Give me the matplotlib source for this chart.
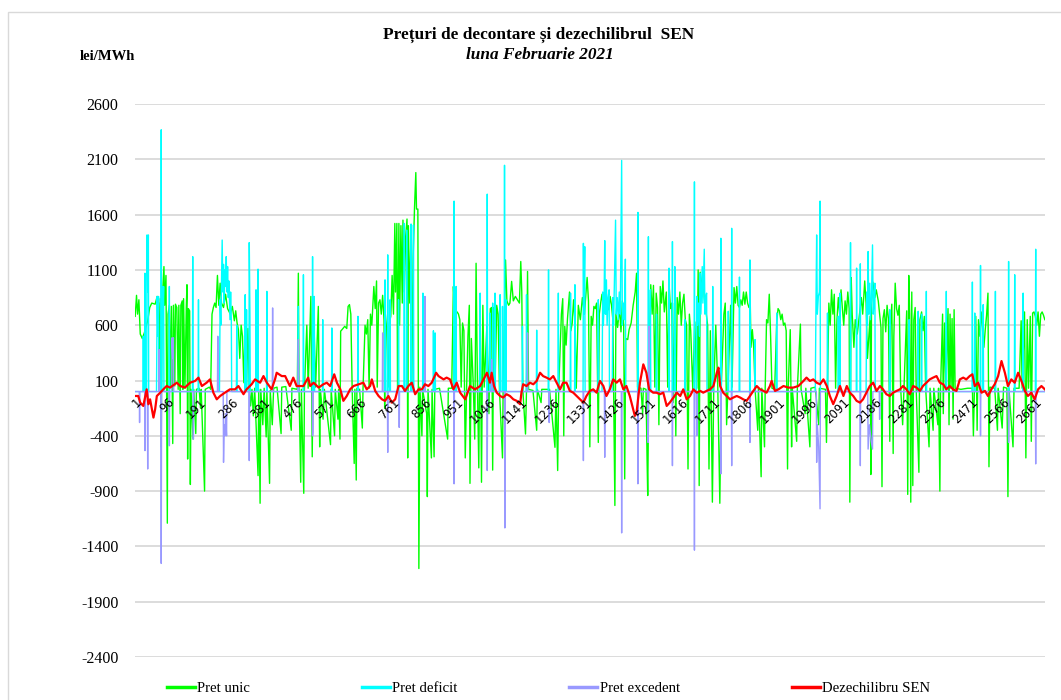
import matplotlib
matplotlib.use("Agg")
from matplotlib import pyplot as plt
from matplotlib.patches import Rectangle

# Readings: (interval number, lei/MWh)
pret_unic = [
    (1, 680), (5, 870), (8, 700), (12, 830), (16, 520), (22, 480), (28, 530), (34, 600), (38, 640),
    (44, 760), (50, 800), (60, 790), (66, 860), (70, 800), (72, 30), (75, 840), (78, -500), (80, 780),
    (86, 1130), (88, 780), (92, 1050), (96, -1190), (98, 700), (102, 780), (106, 40), (108, 770),
    (112, -470), (114, 780), (118, 50), (120, 790), (124, 760), (128, 20), (130, 780), (134, -200),
    (136, 780), (140, 820), (142, 20), (144, 840), (148, 30), (152, 760), (154, 966), (156, -610),
    (158, 750), (162, 730), (164, -840), (166, 20), (172, -430), (174, 20), (180, -380), (182, 20),
    (190, 30), (194, -150), (196, 20), (206, -900), (208, 20), (220, 40), (224, 20), (228, 700),
    (232, 760), (236, 800), (240, 760), (244, 1050), (248, 780), (252, 980), (256, 800), (262, 760),
    (268, 880), (274, 750), (282, 700), (288, 770), (294, 640), (298, 730), (302, 620), (306, 560),
    (310, 300), (314, 600), (318, 500), (322, 80), (326, 600), (330, 60), (334, 570), (338, 40),
    (342, -130), (346, 20), (350, -220), (354, 30), (360, -450), (364, -760), (366, 20), (370, -1010),
    (372, 20), (378, -300), (382, 30), (388, -410), (390, 20), (398, -830), (400, 10), (406, -300),
    (410, 30), (420, 40), (432, -380), (434, 40), (446, 45), (462, -350), (464, 30), (480, 20),
    (483, 1070), (485, 20), (490, -820), (492, 20), (499, -920), (501, 20), (508, 600), (512, 30),
    (520, 860), (524, -590), (528, 750), (534, 40), (542, 770), (546, -500), (548, 20), (556, -250),
    (560, 20), (578, -480), (580, 20), (590, -400), (592, 20), (600, -250), (602, 20), (606, -430),
    (608, 546), (612, 560), (620, 590), (626, 570), (630, 770), (634, 786), (638, 700), (642, 20),
    (648, -650), (650, 20), (654, -800), (656, 30), (664, 20), (672, -330), (674, 20), (680, 600),
    (684, 520), (688, 650), (692, 30), (696, 700), (700, 600), (706, 950), (710, 750), (714, 1000),
    (716, 40), (720, 800), (724, 830), (728, 700), (732, 870), (736, 650), (738, -150), (740, 700),
    (744, 560), (748, 40), (752, 620), (756, 680), (760, 1050), (764, 700), (768, 1520), (770, 900),
    (774, 1520), (776, 30), (780, 1520), (782, 600), (786, 1500), (790, 800), (792, 1550), (796, 900),
    (800, 1400), (804, 1560), (806, -600), (808, 1500), (812, 800), (816, 1500), (818, 40), (822, 1200),
    (826, 1650), (830, 1980), (832, 1650), (836, 1650), (839, -1600), (842, 40), (848, -400), (850, 20),
    (862, -200), (864, -950), (866, 20), (876, -600), (878, 20), (884, -590), (886, 20), (900, 30),
    (924, -430), (926, 30), (936, 30), (941, 950), (944, 760), (948, 711), (952, 720), (956, 700),
    (960, 650), (964, 40), (968, 620), (972, 550), (976, -600), (980, 30), (984, 500), (988, 780),
    (990, -830), (994, 480), (1000, 40), (1004, -430), (1008, 1160), (1012, 50), (1016, -690),
    (1020, 820), (1024, -820), (1028, 780), (1032, 40), (1040, 600), (1046, -200), (1050, 750),
    (1054, 760), (1057, -710), (1060, 760), (1064, 40), (1069, 780), (1073, 700), (1077, 20),
    (1086, -600), (1088, 40), (1095, 1190), (1099, 820), (1104, 780), (1108, 800), (1113, 996),
    (1118, 820), (1124, 860), (1130, 830), (1136, 800), (1140, 1176), (1143, 900), (1146, 20),
    (1154, -384), (1157, 20), (1160, 1086), (1163, 20), (1176, 10), (1187, -350), (1189, 20),
    (1200, -100), (1202, 20), (1225, 20), (1241, -504), (1244, 20), (1249, -714), (1252, 20),
    (1260, 700), (1264, 840), (1267, -400), (1270, 590), (1274, 420), (1278, 660), (1284, 900),
    (1288, 550), (1292, 620), (1296, 830), (1300, 640), (1304, 30), (1310, 780), (1316, 650),
    (1322, 850), (1328, 700), (1336, 1032), (1340, 820), (1344, -500), (1348, 680), (1352, 600),
    (1356, 770), (1360, 750), (1364, 800), (1369, -460), (1372, 700), (1376, 800), (1380, 880),
    (1384, 760), (1388, 800), (1392, 700), (1396, 830), (1400, 740), (1404, 860), (1408, 780),
    (1412, 650), (1418, -1030), (1421, 700), (1426, 580), (1432, 760), (1436, 540), (1440, 820),
    (1444, 600), (1447, -790), (1450, 480), (1456, 470), (1460, 560), (1466, 620), (1472, 780),
    (1478, 900), (1482, 1070), (1485, 40), (1495, 30), (1500, -200), (1502, 30), (1510, 20),
    (1513, -600), (1515, -940), (1518, 30), (1524, 966), (1528, 700), (1532, 960), (1536, 40),
    (1540, 890), (1544, 760), (1548, -300), (1552, 950), (1556, 800), (1560, 1000), (1564, 720),
    (1570, 900), (1574, 40), (1578, 980), (1582, 750), (1586, 800), (1590, -100), (1594, 800),
    (1598, -400), (1602, 850), (1606, 700), (1610, 900), (1614, 600), (1618, 800), (1622, 880),
    (1626, 650), (1630, 600), (1634, -700), (1638, 700), (1642, 550), (1648, 20), (1654, 630),
    (1660, 30), (1664, 1100), (1667, -850), (1670, 1080), (1674, 900), (1678, 1100), (1682, 850),
    (1688, 700), (1692, 600), (1696, -700), (1700, 550), (1706, -1000), (1710, 30), (1716, 600),
    (1722, 30), (1728, -1010), (1732, 20), (1740, 700), (1744, 800), (1748, -300), (1752, 30),
    (1760, 780), (1764, 40), (1770, 940), (1774, 800), (1778, 950), (1782, 780), (1786, 760),
    (1790, 830), (1794, 780), (1798, 900), (1802, 790), (1806, 900), (1810, 800), (1814, 760),
    (1818, 780), (1820, 400), (1824, 560), (1828, 400), (1832, 30), (1840, -350), (1842, 30),
    (1850, -770), (1852, 30), (1860, -500), (1862, 30), (1866, 650), (1870, 620), (1874, 880),
    (1878, 500), (1882, 30), (1890, 20), (1896, 630), (1900, 750), (1904, 730), (1908, 650),
    (1912, 700), (1916, 600), (1920, 620), (1924, 550), (1928, -700), (1930, 30), (1936, 560),
    (1940, -500), (1942, 30), (1955, -450), (1957, 30), (1966, 610), (1968, 20), (1980, -200),
    (1982, 30), (1994, -500), (1997, 30), (2010, 40), (2020, -300), (2022, 30), (2040, 20),
    (2043, -460), (2046, 40), (2050, 800), (2054, 600), (2058, 920), (2062, 700), (2066, 880),
    (2070, 30), (2074, 650), (2078, 850), (2082, 700), (2086, 920), (2090, 750), (2094, 600),
    (2098, 820), (2102, 700), (2106, 900), (2110, 750), (2112, -1000), (2116, 1030), (2119, 700),
    (2124, 400), (2128, 650), (2134, 520), (2146, 850), (2150, 700), (2156, 1000), (2160, 800),
    (2164, 300), (2172, 680), (2174, -750), (2176, 800), (2180, 990), (2186, 850), (2190, 920),
    (2196, 820), (2200, 700), (2204, 580), (2207, -860), (2210, 660), (2214, 740), (2218, 540),
    (2222, 780), (2226, 660), (2230, -450), (2232, 600), (2236, 790), (2240, -560), (2242, 500),
    (2246, 980), (2250, 750), (2254, 690), (2258, 780), (2262, 40), (2268, -300), (2272, 30),
    (2280, 730), (2283, -930), (2286, 1050), (2289, 700), (2292, -1000), (2295, 900), (2298, -850),
    (2301, 650), (2305, 760), (2308, 30), (2316, -730), (2319, 650), (2324, 720), (2328, 550),
    (2332, 680), (2336, 30), (2346, -500), (2349, 30), (2358, -350), (2360, 30), (2372, -300),
    (2374, 30), (2378, -900), (2380, 30), (2386, 700), (2388, -200), (2392, 620), (2396, 30),
    (2402, 750), (2405, -300), (2408, 700), (2411, 30), (2414, 660), (2417, -250), (2420, 740),
    (2423, 30), (2440, 20), (2460, 30), (2474, 30), (2477, -400), (2480, 30), (2484, 680),
    (2488, -350), (2492, 650), (2496, 500), (2500, 720), (2504, 560), (2508, 400), (2512, 560),
    (2516, 690), (2520, 890), (2523, -680), (2526, 40), (2540, 30), (2548, -350), (2550, 30),
    (2562, -330), (2566, 40), (2576, 30), (2579, -950), (2582, 30), (2594, -500), (2597, 30),
    (2612, 30), (2618, 640), (2621, 30), (2628, 720), (2632, -600), (2636, 650), (2640, 30),
    (2645, 680), (2648, -450), (2652, 710), (2656, 720), (2660, 680), (2664, 600), (2668, 720),
    (2672, 500), (2676, 700), (2680, 720), (2684, 690), (2688, 650),
]

pret_deficit = [
    (1, 0), (24, 0), (25, 500), (26, 0), (29, 0), (30, 1070), (31, 0), (35, 0), (36, 1416), (38, 900),
    (40, 1416), (41, 0), (64, 0), (66, 860), (68, 500), (70, 860), (71, 0), (77, 0), (78, 2367), (79, 0),
    (81, 950), (83, 700), (85, 950), (86, 0), (101, 0), (102, 950), (103, 0), (170, 0), (171, 1220),
    (172, 0), (187, 0), (188, 830), (189, 0), (250, 0), (252, 830), (254, 600), (256, 1000), (258, 1370),
    (260, 900), (262, 1150), (264, 800), (266, 1100), (268, 950), (270, 1220), (272, 900), (274, 1130),
    (276, 850), (278, 1000), (281, 650), (283, 900), (285, 650), (286, 0), (300, 0), (301, 600), (302, 0),
    (325, 0), (326, 876), (327, 0), (329, 0), (330, 740), (331, 0), (337, 0), (338, 1347), (340, 700),
    (341, 0), (357, 0), (358, 920), (359, 0), (363, 0), (364, 1107), (365, 0), (389, 0), (390, 906),
    (391, 0), (482, 0), (483, 770), (484, 0), (497, 0), (498, 1056), (499, 0), (524, 0), (525, 1220),
    (526, 0), (529, 0), (530, 860), (531, 0), (554, 0), (555, 650), (556, 0), (581, 0), (582, 575),
    (583, 0), (658, 0), (659, 680), (660, 0), (738, 0), (739, 1010), (741, 0), (746, 0), (747, 1236),
    (748, 0), (753, 0), (754, 830), (755, 0), (778, 0), (779, 830), (780, 0), (795, 0), (796, 1520),
    (797, 0), (802, 0), (803, 1460), (804, 0), (815, 0), (816, 1515), (817, 0), (822, 0), (823, 1506),
    (824, 0), (850, 0), (851, 890), (852, 0), (881, 0), (882, 550), (883, 0), (886, 0), (887, 530),
    (888, 0), (942, 0), (943, 1722), (944, 0), (948, 0), (949, 950), (950, 0), (1019, 0), (1020, 890),
    (1021, 0), (1040, 0), (1041, 1785), (1042, 0), (1048, 0), (1049, 710), (1050, 0), (1056, 0),
    (1057, 800), (1058, 0), (1063, 0), (1064, 890), (1065, 0), (1078, 0), (1079, 876), (1080, 0),
    (1085, 0), (1086, 770), (1087, 0), (1091, 0), (1092, 2046), (1093, 0), (1095, 0), (1096, 830),
    (1097, 0), (1144, 0), (1145, 590), (1146, 0), (1156, 0), (1157, 876), (1158, 0), (1186, 0),
    (1187, 555), (1188, 0), (1221, 0), (1222, 1100), (1223, 0), (1250, 0), (1251, 890), (1252, 0),
    (1286, 0), (1287, 890), (1288, 0), (1299, 0), (1300, 966), (1301, 0), (1324, 0), (1325, 1340),
    (1326, 700), (1329, 1310), (1330, 0), (1368, 0), (1369, 830), (1370, 0), (1380, 0), (1382, 900),
    (1384, 600), (1386, 800), (1388, 1365), (1390, 700), (1393, 1010), (1395, 600), (1398, 850),
    (1401, 920), (1402, 0), (1410, 0), (1412, 850), (1414, 600), (1416, 900), (1420, 1550), (1422, 700),
    (1425, 850), (1428, 650), (1431, 900), (1434, 700), (1438, 2090), (1440, 600), (1443, 800),
    (1446, 650), (1449, 1197), (1450, 0), (1485, 0), (1486, 1620), (1487, 0), (1516, 0), (1517, 1400),
    (1518, 0), (1522, 0), (1523, 920), (1524, 0), (1540, 0), (1541, 700), (1542, 0), (1577, 0),
    (1578, 1116), (1579, 0), (1587, 0), (1588, 1356), (1589, 0), (1594, 0), (1595, 1130), (1596, 0),
    (1624, 0), (1625, 650), (1626, 0), (1652, 0), (1653, 1896), (1654, 0), (1659, 0), (1660, 860),
    (1662, 600), (1665, 800), (1668, 500), (1670, 1070), (1672, 700), (1676, 1130), (1678, 800),
    (1682, 1287), (1684, 700), (1686, 850), (1689, 890), (1690, 0), (1706, 0), (1707, 950), (1708, 0),
    (1730, 0), (1731, 1386), (1732, 0), (1752, 0), (1753, 726), (1754, 0), (1762, 0), (1763, 1476),
    (1764, 0), (1785, 0), (1786, 1035), (1787, 0), (1816, 0), (1817, 1190), (1818, 0), (1831, 0),
    (1832, 470), (1833, 0), (1895, 0), (1896, 710), (1897, 0), (2010, 0), (2012, 800), (2014, 1416),
    (2016, 700), (2019, 860), (2022, 900), (2024, 1722), (2025, 0), (2045, 0), (2046, 710), (2047, 0),
    (2077, 0), (2078, 680), (2079, 0), (2082, 0), (2083, 890), (2084, 0), (2113, 0), (2114, 1347),
    (2115, 0), (2131, 0), (2132, 1116), (2133, 0), (2142, 0), (2143, 1155), (2144, 0), (2160, 0),
    (2162, 900), (2164, 600), (2166, 1266), (2168, 700), (2171, 980), (2173, 650), (2176, 850),
    (2179, 1326), (2181, 700), (2184, 840), (2186, 980), (2187, 0), (2229, 0), (2230, 740), (2231, 0),
    (2286, 0), (2287, 650), (2288, 0), (2313, 0), (2314, 726), (2315, 0), (2323, 0), (2324, 700),
    (2325, 0), (2337, 0), (2338, 906), (2339, 0), (2396, 0), (2397, 906), (2398, 0), (2473, 0),
    (2474, 990), (2475, 0), (2480, 0), (2481, 710), (2482, 0), (2497, 0), (2498, 1140), (2499, 0),
    (2505, 0), (2506, 786), (2507, 0), (2541, 0), (2542, 906), (2543, 0), (2580, 0), (2581, 1176),
    (2582, 0), (2598, 0), (2599, 1056), (2600, 0), (2623, 0), (2624, 890), (2625, 0), (2660, 0),
    (2661, 1287), (2662, 0), (2688, 0),
]

pret_excedent = [
    (1, 0), (13, 0), (14, -280), (15, 0), (29, 0), (30, -534), (31, 0), (37, 0), (38, -700), (39, 0),
    (71, 0), (72, 380), (73, 0), (77, 0), (78, -1554), (79, 0), (101, 0), (102, -490), (103, 0),
    (109, 0), (110, 486), (112, 300), (114, 486), (115, 0), (172, 0), (173, -430), (174, 0), (244, 0),
    (245, 500), (246, 0), (261, 0), (262, -640), (264, -300), (266, -400), (268, -200), (271, -400),
    (272, 0), (337, 0), (338, -624), (339, 0), (406, 0), (407, 756), (408, 0), (482, 0), (483, 470),
    (484, 0), (524, 0), (525, -400), (526, -370), (527, 0), (731, 0), (732, 530), (733, 0), (746, 0),
    (747, -550), (748, 0), (780, 0), (781, -324), (782, 0), (856, 0), (857, 860), (858, 0), (942, 0),
    (943, -834), (944, 0), (1040, 0), (1041, -714), (1042, 0), (1053, 0), (1054, 290), (1055, 0),
    (1092, 0), (1093, -1233), (1094, 0), (1159, 0), (1160, 530), (1161, 0), (1223, 0), (1224, -280),
    (1225, 0), (1324, 0), (1325, -624), (1326, 0), (1387, 0), (1388, -594), (1389, 0), (1437, 0),
    (1438, -1278), (1439, 0), (1485, 0), (1486, -834), (1487, 0), (1515, 0), (1516, -460), (1519, 590),
    (1520, 0), (1587, 0), (1588, -670), (1589, 0), (1652, 0), (1653, -1434), (1654, 0), (1659, 0),
    (1660, -400), (1661, 0), (1730, 0), (1731, -744), (1732, 0), (1762, 0), (1763, -670), (1764, 0),
    (1816, 0), (1817, -460), (1818, 0), (2013, 0), (2014, -640), (2016, -300), (2020, -500),
    (2024, -1060), (2025, 0), (2142, 0), (2143, -670), (2144, 0), (2165, 0), (2166, -520), (2170, -300),
    (2175, -450), (2179, -520), (2180, 0), (2199, 0), (2200, -250), (2201, 0), (2497, 0), (2498, -400),
    (2499, 0), (2580, 0), (2581, -460), (2582, 0), (2660, 0), (2661, -654), (2662, 0), (2688, 0),
]

dezechilibru = [
    (1, -40), (10, -40), (16, -100), (25, -130), (35, 20), (40, -115), (45, -70), (55, -235), (60, -160),
    (65, -40), (75, -10), (84, 20), (94, 50), (104, 36), (124, 80), (134, 50), (148, 36), (163, 80),
    (178, 96), (188, 126), (198, 50), (212, 80), (222, 110), (232, -10), (242, -70), (252, -40),
    (266, -10), (281, 20), (296, 20), (306, 50), (321, -24), (330, 20), (345, 66), (355, 110), (370, 80),
    (380, 140), (390, 80), (404, 20), (414, 110), (419, 170), (434, 140), (444, 140), (458, 50),
    (468, 126), (478, 50), (488, 50), (498, 50), (512, 126), (518, 50), (528, 80), (543, 36), (557, 66),
    (567, 80), (577, 50), (589, 156), (597, 80), (607, 20), (616, -84), (626, -40), (636, 20), (646, 50),
    (661, 66), (675, 80), (685, 20), (695, 50), (700, 110), (710, 6), (720, -40), (730, -70), (739, -84),
    (749, -40), (759, -100), (769, -70), (779, 50), (789, 50), (798, 6), (808, 50), (818, 80), (828, -24),
    (838, 20), (848, 20), (857, 66), (867, 50), (877, 80), (890, 170), (897, 140), (912, 110), (921, 126),
    (931, 110), (941, 20), (951, 80), (961, -10), (976, -70), (990, 50), (1005, 20), (1020, 50),
    (1030, 110), (1040, 170), (1049, 80), (1054, 170), (1061, 50), (1069, -10), (1079, -40), (1088, -54),
    (1098, -24), (1108, -40), (1118, -70), (1128, -84), (1138, -115), (1142, -10), (1147, 66), (1157, 50),
    (1167, 80), (1177, 66), (1187, 96), (1197, 170), (1206, 140), (1216, 126), (1226, 110), (1236, 140),
    (1246, 80), (1256, 20), (1265, 80), (1275, 80), (1285, 6), (1295, -10), (1305, -40), (1315, -70),
    (1325, -100), (1334, -40), (1344, 6), (1354, 20), (1364, -10), (1374, 96), (1384, 50), (1393, -40),
    (1403, 20), (1413, 110), (1423, 80), (1433, 110), (1443, 20), (1452, 50), (1462, -40), (1472, -160),
    (1477, -220), (1482, -190), (1492, 80), (1502, 246), (1511, 170), (1519, 20), (1531, -10),
    (1541, -10), (1551, -24), (1561, -10), (1571, -130), (1580, -100), (1591, -54), (1601, -10),
    (1611, -40), (1620, 20), (1630, -70), (1640, -40), (1650, 20), (1660, -10), (1670, 6), (1679, -10),
    (1689, 6), (1699, 20), (1709, 50), (1719, 170), (1724, 216), (1729, 50), (1738, -10), (1748, -40),
    (1758, -70), (1768, -54), (1778, -40), (1788, -54), (1797, -70), (1807, -84), (1817, -40), (1827, 6),
    (1837, 50), (1847, 20), (1857, 6), (1866, -10), (1876, 50), (1881, 96), (1891, 6), (1901, 20),
    (1916, 50), (1930, 36), (1945, 36), (1960, 50), (1975, 96), (1984, 126), (1994, 96), (2004, 110),
    (2014, 80), (2024, 66), (2034, 110), (2044, 50), (2053, -40), (2063, -114), (2073, -40), (2083, 50),
    (2093, -40), (2103, 50), (2112, -10), (2122, -40), (2132, -84), (2142, -100), (2151, -70),
    (2161, -10), (2171, 50), (2181, 80), (2191, 6), (2201, 50), (2210, 20), (2220, -24), (2230, -40),
    (2240, -10), (2250, 6), (2260, 20), (2269, 50), (2279, 20), (2289, -24), (2299, 50), (2309, 36),
    (2319, 6), (2328, 50), (2338, 80), (2348, 110), (2358, 126), (2368, 140), (2378, 80), (2388, 66),
    (2397, 20), (2407, 50), (2417, 20), (2427, 6), (2437, 110), (2447, 126), (2456, 110), (2466, 140),
    (2474, 156), (2481, 50), (2491, 80), (2501, -10), (2511, 6), (2520, -40), (2530, 20), (2540, 66),
    (2550, 140), (2560, 276), (2570, 170), (2579, 50), (2589, 110), (2599, 80), (2609, 170), (2619, 96),
    (2629, 6), (2638, -40), (2648, -10), (2658, -70), (2668, 20), (2678, 50), (2688, 20),
]

x_tick_labels = ["1", "96", "191", "286", "381", "476", "571", "666", "761", "856", "951", "1046",
                 "1141", "1236", "1331", "1426", "1521", "1616", "1711", "1806", "1901", "1996",
                 "2091", "2186", "2281", "2376", "2471", "2566", "2661"]
y_ticks = [-2400, -1900, -1400, -900, -400, 100, 600, 1100, 1600, 2100, 2600]

series = [
    ("Pret unic", pret_unic, "#00ff00", 1.0),
    ("Pret deficit", pret_deficit, "#00ffff", 1.0),
    ("Pret excedent", pret_excedent, "#9999ff", 1.0),
    ("Dezechilibru SEN", dezechilibru, "#ff0000", 1.6),
]

plt.rcParams["font.family"] = ["Liberation Serif", "DejaVu Serif"]

fig = plt.figure(figsize=(10.61, 7.0), dpi=100)
ax = fig.add_axes([135 / 1061, 1 - 657 / 700, 910 / 1061, (657 - 104) / 700])

for name, data, color, lw in series:
    xs, ys = zip(*data)
    ax.plot(xs, ys, color=color, lw=lw, label=name)

# category axis crosses at 0; do this before styling the tick labels
ax.spines["bottom"].set_position(("data", 0))
for s in ax.spines.values():
    s.set_visible(False)

ax.set_xlim(0.5, 2688.5)
ax.set_ylim(-2400, 2600)
ax.set_yticks(y_ticks)
ax.set_yticklabels([str(v) for v in y_ticks], fontsize=11.5)
ax.tick_params(axis="y", length=0, pad=12)
ax.yaxis.grid(True, color="#d9d9d9", lw=1.3)
ax.set_axisbelow(True)

ax.set_xticks([int(t) for t in x_tick_labels])
ax.set_xticklabels(x_tick_labels, rotation=45, ha="right", va="top",
                   rotation_mode="anchor", fontsize=8.5, family="DejaVu Sans")
ax.tick_params(axis="x", length=0, pad=3)
ax.xaxis.set_zorder(3)  # category labels sit over the series, as in Excel

fig.text(0.508, 1 - 35 / 700, "Prețuri de decontare și dezechilibrul  SEN",
         ha="center", va="center", fontsize=12.4, fontweight="bold")
fig.text(0.509, 1 - 55 / 700, "luna Februarie 2021", ha="center", va="center",
         fontsize=12.4, fontweight="bold", fontstyle="italic")
fig.text(80 / 1061, 1 - 56 / 700, "lei/MWh", ha="left", va="center",
         fontsize=10.5, fontweight="bold")

handles, labels = ax.get_legend_handles_labels()
leg = fig.legend(handles, labels, loc="center", bbox_to_anchor=(0.517, 1 - 688 / 700),
                 ncol=4, frameon=False, fontsize=10.6, handlelength=1.9,
                 handletextpad=0.15, columnspacing=7.6)
for line in leg.get_lines():
    line.set_linewidth(2.5)

fig.patches.append(Rectangle((8 / 1061, -0.05), 1.1, 1 - 12 / 700 + 0.05,
                             transform=fig.transFigure, fill=False,
                             edgecolor="#d9d9d9", lw=1.0))

fig.savefig("out.png", dpi=100)
